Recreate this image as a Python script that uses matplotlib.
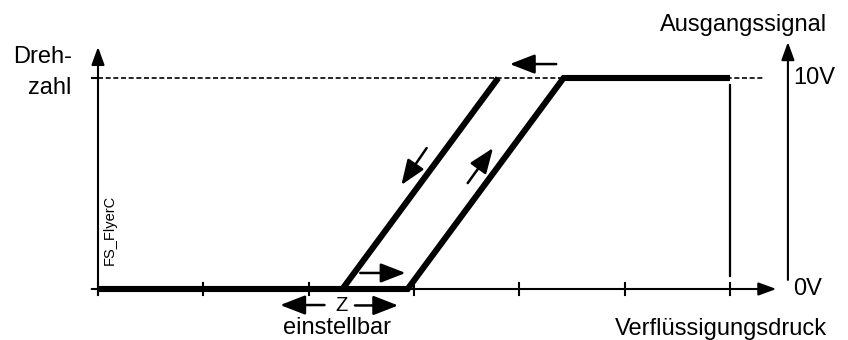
import matplotlib
matplotlib.use("Agg")
import matplotlib.pyplot as plt

plt.rcParams['font.family'] = ['Liberation Sans', 'DejaVu Sans']

# ---- data (x in tick units of pressure, y in volts) ----
x_ticks = [0, 1, 2, 3, 4, 5, 6]
rising_x = [0, 2.94, 4.42, 6]
rising_y = [0, 0, 10, 10]
falling_x = [3.80, 2.32]
falling_y = [10, 0]
y_max = 10
x_end = 6
y_labels = ["0V", "10V"]
y_label_vals = [0, 10]

# pixel mapping: x0 px=98, 105.33 px per unit; y0 px=289, 21.1 px per unit
PX = 105.33
PY = 21.1

fig = plt.figure(figsize=(8.48, 3.4), dpi=100)
ax = fig.add_axes([0, 0, 1, 1])
ax.set_xlim(-98 / PX, (848 - 98) / PX)
ax.set_ylim((289 - 340) / PY, 289 / PY)
ax.axis('off')

k = 'black'
ax_lw = 1.5

# dashed reference line at 10V
ax.plot([0, 6.32], [y_max, y_max], color=k, lw=1.2, dashes=(3, 1.6), zorder=1)
ax.plot([-0.06, 0], [y_max, y_max], color=k, lw=ax_lw, zorder=2)

arrow_axis = dict(arrowstyle='-|>,head_length=0.6,head_width=0.22', mutation_scale=18,
                  lw=ax_lw, color=k, shrinkA=0, shrinkB=0)
# x axis
ax.annotate('', xy=(6.44, 0), xytext=(-0.06, 0), arrowprops=arrow_axis, zorder=2)
# left y axis
ax.annotate('', xy=(0, 11.47), xytext=(0, -0.28), arrowprops=arrow_axis, zorder=2)
# right y axis
ax.annotate('', xy=(6.55, 11.7), xytext=(6.55, 0.43), arrowprops=arrow_axis, zorder=2)

# ticks
for t in x_ticks:
    ax.plot([t, t], [-0.3, 0.3], color=k, lw=ax_lw, zorder=2)

# thin vertical at the end
ax.plot([x_end, x_end], [0.62, 9.67], color=k, lw=1.6, zorder=2)

# hysteresis curve
ax.plot(rising_x, rising_y, color=k, lw=4.4, solid_joinstyle='miter', solid_capstyle='butt', zorder=3)
ax.plot(falling_x, falling_y, color=k, lw=4.4, solid_capstyle='butt', zorder=3)

# direction arrows
arr = dict(arrowstyle='-|>,head_length=0.85,head_width=0.33', mutation_scale=18,
           lw=1.8, color=k, shrinkA=0, shrinkB=0)
ax.annotate('', xy=(3.91, 10.66), xytext=(4.35, 10.66), arrowprops=arr)
ax.annotate('', xy=(2.88, 4.93), xytext=(3.12, 6.68), arrowprops=arr)
ax.annotate('', xy=(3.75, 6.68), xytext=(3.51, 5.02), arrowprops=arr)
ax.annotate('', xy=(2.92, 0.76), xytext=(2.49, 0.76), arrowprops=arr)
ax.annotate('', xy=(1.73, -0.76), xytext=(2.15, -0.76), arrowprops=arr)
ax.annotate('', xy=(2.85, -0.78), xytext=(2.44, -0.78), arrowprops=arr)

fs = 17
y_bottom = (289 - 339.5) / PY
ax.text(2.31, -0.78, 'Z', fontsize=14.5, ha='center', va='center')
ax.text(2.27, y_bottom, 'einstellbar', fontsize=fs, ha='center', va='bottom')
ax.text(6.92, y_bottom, 'Verflüssigungsdruck', fontsize=fs, ha='right', va='bottom')
ax.text(6.92, 12.5, 'Ausgangssignal', fontsize=fs, ha='right', va='center')
ax.text(-0.25, 11.0, 'Dreh-', fontsize=fs, ha='right', va='center')
ax.text(-0.25, 9.53, 'zahl', fontsize=fs, ha='right', va='center')
for lab, v in zip(y_labels, y_label_vals):
    ax.text(6.60, v, lab, fontsize=fs, ha='left', va='center')
ax.text(0.115, 2.8, 'FS_FlyerC', fontsize=10.5, rotation=90, ha='center', va='center')

fig.savefig('out.png', dpi=100)
